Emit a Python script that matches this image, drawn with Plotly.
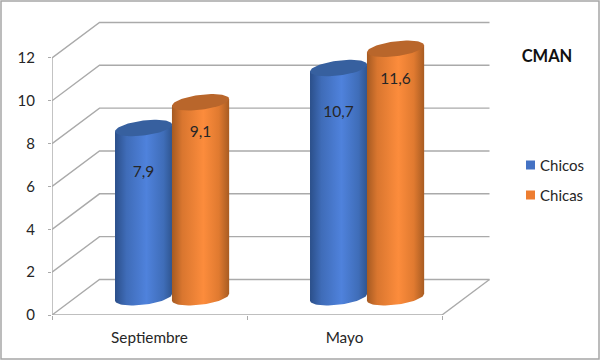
import numpy as np
import plotly.graph_objects as go

categories = ["Septiembre", "Mayo"]
chicos = [7.9, 10.7]
chicas = [9.1, 11.6]
y_ticks = [0, 2, 4, 6, 8, 10, 12]

FONT = "Lato"
TEXT = "#262626"
GRID = "#aaaaaa"
W, H = 600, 360
ML, MB = 52, 45
PX_X = 195.0          # px per category
PX_Y = 21.42          # px per value unit
DX, DY = 47.5 / PX_X, 35.5 / PX_Y   # depth of the 3D box
X_MAX = (W - ML) / PX_X
Y_MAX = (H - MB) / PX_Y
R = 28.6 / PX_X
RY = 7.5 / PX_Y
TILT = 3.4 / PX_Y

series = [
    dict(name="Chicos", vals=chicos, off=-0.152, solid="#4472c4", lid="#37609f", key_y=165,
         grad=[[0, "#2b4f8a"], [0.2, "#3f6cb8"], [0.55, "#4f82dc"], [0.85, "#3f6db8"], [1, "#2f5590"]],
         drop=2.1),
    dict(name="Chicas", vals=chicas, off=0.140, solid="#ed7d31", lid="#b9662b", key_y=195,
         grad=[[0, "#a55a22"], [0.18, "#d9762f"], [0.55, "#fc8c3c"], [0.82, "#e07a30"], [1, "#a85c22"]],
         drop=1.45),
]

fig = go.Figure()

# solid bars carrying the values, hidden inside the cylinders
for s in series:
    xs = [i + 0.5 + s["off"] + DX / 2 for i in range(len(categories))]
    fig.add_trace(go.Bar(x=xs, y=s["vals"], base=DY / 2, width=2 * R * 0.8, name=s["name"],
                         marker=dict(color=s["solid"], line_width=0), showlegend=False,
                         hoverinfo="skip"))

def line(x, y, color=GRID, width=1.4):
    fig.add_trace(go.Scatter(x=x, y=y, mode="lines", line=dict(color=color, width=width),
                             showlegend=False, hoverinfo="skip", cliponaxis=False))

for v in y_ticks:
    line([0, DX, len(categories) + DX], [v, v + DY, v + DY])
line([0, 0], [0, y_ticks[-1]])
line([0, len(categories)], [0, 0])
line([len(categories), len(categories) + DX], [0, DY])

t_low = np.linspace(np.pi, 0, 40)        # lower half, left to right
t_full = np.linspace(0, 2 * np.pi, 80)

for i in range(len(categories)):
    for s in series:
        cx = i + 0.5 + s["off"] + DX / 2
        base = DY / 2
        top = base + s["vals"][i]
        bx = cx + R * np.cos(t_low)
        by = base - RY * np.sin(t_low) + TILT * np.cos(t_low)
        tx = [cx + R, cx - R]
        ty = [top + TILT, top - TILT]
        fig.add_trace(go.Scatter(
            x=np.concatenate([bx, tx, bx[:1]]), y=np.concatenate([by, ty, by[:1]]),
            mode="lines", line=dict(width=0), fill="toself",
            fillgradient=dict(type="horizontal", colorscale=s["grad"]),
            showlegend=False, hoverinfo="skip"))
        fig.add_trace(go.Scatter(
            x=cx + R * np.cos(t_full),
            y=top + RY * np.sin(t_full) + TILT * np.cos(t_full),
            mode="lines", line=dict(width=0), fill="toself", fillcolor=s["lid"],
            showlegend=False, hoverinfo="skip"))

for s in series:
    xs = [i + 0.5 + s["off"] + DX / 2 for i in range(len(categories))]
    fig.add_trace(go.Scatter(
        x=xs, y=[v + DY / 2 - s["drop"] for v in s["vals"]], mode="text",
        text=[f"{v:.1f}".replace(".", ",") for v in s["vals"]],
        textfont=dict(family=FONT, size=15.5, color=TEXT),
        showlegend=False, hoverinfo="skip"))

plot_w = W - ML
plot_h = H - MB

def px(x):
    return (x - ML) / plot_w

def py(y):
    return 1 - y / plot_h

shapes = [dict(type="rect", xref="paper", yref="paper",
               x0=px(1), x1=px(W - 1), y0=py(H - 1), y1=py(1),
               line=dict(color="#a6a6a6", width=1.5), fillcolor="rgba(0,0,0,0)", layer="above")]
annotations = []
for s in series:
    shapes.append(dict(type="rect", xref="paper", yref="paper",
                       x0=px(526), x1=px(535), y0=py(s["key_y"] + 4.5), y1=py(s["key_y"] - 4.5),
                       line_width=0, fillcolor=s["solid"], layer="above"))
    annotations.append(dict(text=s["name"], xref="paper", yref="paper", x=px(540), y=py(s["key_y"]),
                            xanchor="left", yanchor="middle", showarrow=False, xshift=0,
                            font=dict(family=FONT, size=15, color=TEXT), borderpad=0, borderwidth=0))

fig.update_layout(
    width=W, height=H, autosize=False,
    margin=dict(l=ML, r=0, t=0, b=MB, pad=0),
    paper_bgcolor="white", plot_bgcolor="white",
    barmode="overlay",
    showlegend=False,
    font=dict(family=FONT, color=TEXT, size=15),
    title=dict(text="<b>CMAN</b>", xref="container", yref="container", x=547 / W, y=1 - 56 / H,
               xanchor="center", yanchor="middle", font=dict(family=FONT, size=16.5, color="#111111")),
    xaxis=dict(range=[0, X_MAX], tickmode="array", tickvals=[i + 0.5 for i in range(len(categories))],
               ticktext=categories, ticks="", ticklabelstandoff=12, showgrid=False, zeroline=False,
               showline=False, tickfont=dict(family=FONT, size=15.3, color=TEXT),
               minor=dict(tickmode="array", tickvals=list(range(len(categories) + 1)), ticks="outside",
                          ticklen=4, tickcolor=GRID, tickwidth=1, showgrid=False)),
    yaxis=dict(range=[0, Y_MAX], tickmode="array", tickvals=y_ticks, ticks="outside", ticklen=3,
               tickcolor=GRID, tickwidth=1, ticklabelstandoff=10, showgrid=False, zeroline=False,
               showline=False, tickfont=dict(family=FONT, size=15, color=TEXT)),
    shapes=shapes,
    annotations=annotations,
)

fig.write_html("out.html", post_script="document.body.style.margin='0';",
               config=dict(displayModeBar=False))
